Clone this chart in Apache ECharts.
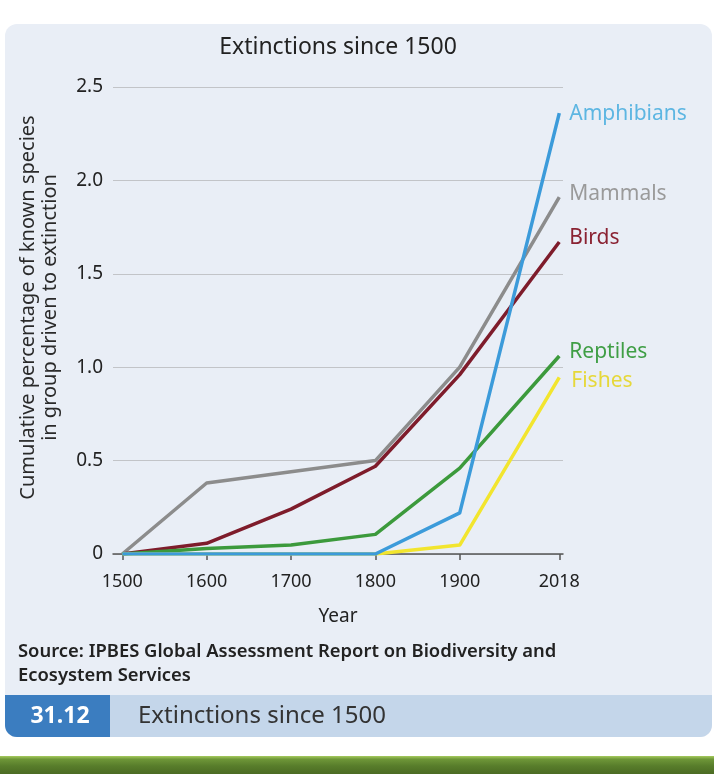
<!DOCTYPE html>
<html>
<head>
<meta charset="utf-8">
<script src="https://cdn.jsdelivr.net/npm/echarts@6/dist/echarts.min.js"></script>
<style>
  html, body { margin: 0; padding: 0; background: #fff; }
  #chart { width: 714px; height: 774px; }
</style>
</head>
<body>
<div id="chart"></div>
<script>
// values (cumulative % of known species extinct)
const years = [1500, 1600, 1700, 1800, 1900, 2018];
const mammals = [0, 0.38, 0.44, 0.5, 1.0, 1.91];
const birds = [0, 0.057, 0.24, 0.47, 0.96, 1.67];
const reptiles = [0, 0.03, 0.048, 0.105, 0.46, 1.06];
const fishes = [0, 0, 0, 0, 0.048, 0.946];
const amphibians = [0, 0, 0, 0, 0.22, 2.36];
const yearTicks = [1500, 1600, 1700, 1800, 1900, 2018];

const FONT = "Noto Sans";

function pairs(vals) {
  return vals.map((v, i) => [years[i], v]);
}

function line(name, vals, color, labelColor, offset) {
  return {
    name, type: "line", data: pairs(vals),
    showSymbol: false, silent: true,
    lineStyle: { color, width: 3.5, join: "round" },
    endLabel: {
      show: true, formatter: name, color: labelColor,
      fontFamily: FONT, fontSize: 21, distance: 10, offset,
    },
    animation: false,
  };
}

const chart = echarts.init(document.getElementById("chart"), null, { renderer: "canvas" });

chart.setOption({
  backgroundColor: "#ffffff",
  title: {
    text: "Extinctions since 1500",
    left: 338, top: 36, textAlign: "center", padding: 0,
    textStyle: { fontFamily: FONT, fontSize: 23, fontWeight: "normal", color: "#222" },
  },
  graphic: [
    { type: "rect", z: -10, shape: { x: 5, y: 24, width: 707, height: 713, r: 12 },
      style: { fill: "#E9EEF6" } },
    { type: "rect", z: -9, shape: { x: 5, y: 695, width: 707, height: 42, r: [0, 0, 12, 12] },
      style: { fill: "#C4D6EA" } },
    { type: "rect", z: -8, shape: { x: 5, y: 695, width: 105, height: 42, r: [0, 0, 0, 12] },
      style: { fill: "#3B7DC0" } },
    { type: "rect", z: -8, shape: { x: 0, y: 756, width: 714, height: 18 },
      style: { fill: new echarts.graphic.LinearGradient(0, 0, 0, 1, [
        { offset: 0, color: "#A6CB5E" },
        { offset: 0.18, color: "#6E9638" },
        { offset: 0.55, color: "#587D2B" },
        { offset: 1, color: "#4B6B23" },
      ]) } },
    { type: "text", left: 18, top: 640,
      style: { text: "Source: IPBES Global Assessment Report on Biodiversity and\nEcosystem Services",
        fontFamily: FONT, fontSize: 18.4, fontWeight: 600, fill: "#222", lineHeight: 24 } },
    { type: "text", x: 60, y: 716,
      style: { text: "31.12", fontFamily: FONT, fontSize: 23, fontWeight: "bold", fill: "#fff",
        align: "center", verticalAlign: "middle" } },
    { type: "text", x: 138, y: 716,
      style: { text: "Extinctions since 1500", fontFamily: FONT, fontSize: 24, fill: "#333",
        verticalAlign: "middle" } },
  ],
  grid: { left: 113, top: 87, width: 450, height: 467, containLabel: false },
  xAxis: {
    type: "value", min: 1489, max: 2022.4,
    name: "Year", nameLocation: "middle", nameGap: 53,
    nameTextStyle: { fontFamily: FONT, fontSize: 19, color: "#222" },
    axisLine: { show: true, lineStyle: { color: "#555", width: 1.5 } },
    axisTick: { show: true, customValues: yearTicks, length: 6, lineStyle: { color: "#555", width: 1.5 } },
    axisLabel: {
      customValues: yearTicks, margin: 19, fontFamily: FONT, fontSize: 18, color: "#222",
      formatter: (v) => String(v),
    },
    splitLine: { show: false },
  },
  yAxis: {
    type: "value", min: 0, max: 2.5, interval: 0.5,
    name: "Cumulative percentage of known species\nin group driven to extinction",
    nameLocation: "middle", nameRotate: 90, nameGap: 52,
    nameTextStyle: { fontFamily: FONT, fontSize: 20, color: "#2a2a2a", lineHeight: 22, padding: [0, 0, 0, 26] },
    axisLine: { show: false },
    axisTick: { show: false },
    axisLabel: {
      margin: 10, fontFamily: FONT, fontSize: 19, color: "#222",
      formatter: (v) => (v === 0 ? "0" : v.toFixed(1)),
    },
    splitLine: { lineStyle: { color: "#C2C4C8", width: 1 } },
  },
  series: [
    line("Mammals", mammals, "#8C8C8C", "#9A9A9A", [0, -3]),
    line("Birds", birds, "#7E1C2B", "#8A2232", [0, -4]),
    line("Reptiles", reptiles, "#3C9A3C", "#3F9E45", [0, -4]),
    line("Fishes", fishes, "#F2E52E", "#E6D83A", [2, 4]),
    line("Amphibians", amphibians, "#3C9BDA", "#5DB6E2", [0, 1]),
  ],
});
</script>
</body>
</html>
